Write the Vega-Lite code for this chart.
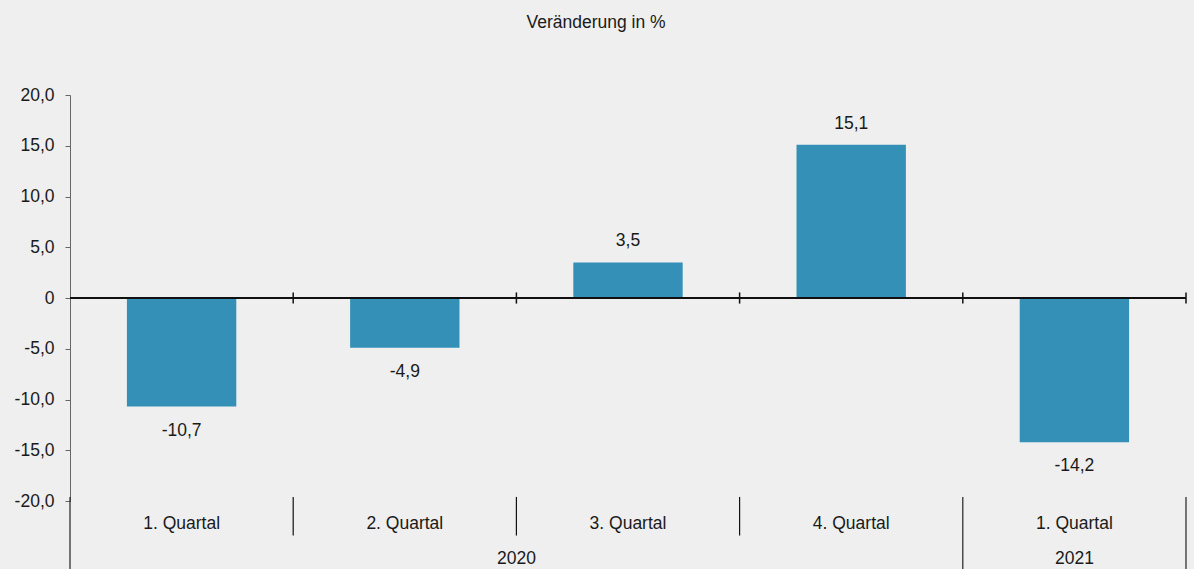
{
  "$schema": "https://vega.github.io/schema/vega-lite/v6.json",
  "width": 1116,
  "height": 406,
  "autosize": {"type": "none"},
  "padding": {"left": 70, "top": 95, "right": 8, "bottom": 68},
  "background": "#eeefee",
  "title": {
    "text": "Veränderung in %",
    "font": "Liberation Sans",
    "fontSize": 17.5,
    "fontWeight": "normal",
    "color": "#1a1a1a",
    "anchor": "middle",
    "baseline": "middle",
    "dx": -32,
    "offset": 46
  },
  "config": {
    "view": {"stroke": null},
    "text": {"font": "Liberation Sans", "fontSize": 17.5, "color": "#1a1a1a"}
  },
  "data": {
    "values": [
      {"key": "2020-1", "quarter": "1. Quartal", "year": "2020", "value": -10.7, "label": "-10,7"},
      {"key": "2020-2", "quarter": "2. Quartal", "year": "2020", "value": -4.9, "label": "-4,9"},
      {"key": "2020-3", "quarter": "3. Quartal", "year": "2020", "value": 3.5, "label": "3,5"},
      {"key": "2020-4", "quarter": "4. Quartal", "year": "2020", "value": 15.1, "label": "15,1"},
      {"key": "2021-1", "quarter": "1. Quartal", "year": "2021", "value": -14.2, "label": "-14,2"}
    ]
  },
  "encoding": {
    "x": {
      "field": "key",
      "type": "nominal",
      "sort": null,
      "scale": {"paddingInner": 0, "paddingOuter": 0},
      "axis": null
    }
  },
  "layer": [
    {
      "mark": {"type": "bar", "color": "#3590b8", "width": {"band": 0.49}},
      "encoding": {
        "y": {
          "field": "value",
          "type": "quantitative",
          "scale": {"domain": [-20, 20], "nice": false, "zero": false},
          "axis": {
            "values": [-20, -15, -10, -5, 0, 5, 10, 15, 20],
            "labelExpr": "datum.value == 0 ? '0' : replace(replace(format(datum.value, '.1f'), '.', ','), '\u2212', '-')",
            "title": null,
            "grid": false,
            "domainColor": "#666666",
            "tickColor": "#666666",
            "tickSize": 5,
            "labelPadding": 11,
            "labelFont": "Liberation Sans",
            "labelFontSize": 17.5,
            "labelColor": "#1a1a1a"
          }
        }
      }
    },
    {
      "mark": {"type": "rule", "color": "#111111", "strokeWidth": 1.5},
      "encoding": {"y": {"datum": 0, "type": "quantitative"}, "x": {"value": 0}, "x2": {"value": {"expr": "width"}}}
    },
    {
      "mark": {"type": "rule", "color": "#111111", "strokeWidth": 1.5},
      "encoding": {
        "x": {"field": "key", "type": "nominal", "sort": null, "bandPosition": 1},
        "y": {"datum": -0.55, "type": "quantitative"},
        "y2": {"datum": 0.55}
      }
    },
    {
      "transform": [{"filter": "datum.quarter != '1. Quartal'"}],
      "mark": {"type": "rule", "color": "#111111", "strokeWidth": 1.2},
      "encoding": {
        "x": {"field": "key", "type": "nominal", "sort": null, "bandPosition": 0},
        "y": {"datum": -19.6, "type": "quantitative"},
        "y2": {"datum": -23.4}
      }
    },
    {
      "transform": [{"filter": "datum.quarter == '1. Quartal'"}],
      "mark": {"type": "rule", "color": "#222222", "strokeWidth": 1.2},
      "encoding": {
        "x": {"field": "key", "type": "nominal", "sort": null, "bandPosition": 0},
        "y": {"datum": -19.6, "type": "quantitative"},
        "y2": {"datum": -27.5}
      }
    },
    {
      "transform": [{"filter": "datum.key == '2021-1'"}],
      "mark": {"type": "rule", "color": "#222222", "strokeWidth": 1.2},
      "encoding": {
        "x": {"field": "key", "type": "nominal", "sort": null, "bandPosition": 1},
        "y": {"datum": -19.6, "type": "quantitative"},
        "y2": {"datum": -27.5}
      }
    },
    {
      "transform": [{"filter": "datum.value > 0"}],
      "mark": {"type": "text", "baseline": "middle", "dy": -21},
      "encoding": {
        "y": {"field": "value", "type": "quantitative"},
        "text": {"field": "label"}
      }
    },
    {
      "transform": [{"filter": "datum.value < 0"}],
      "mark": {"type": "text", "baseline": "middle", "dy": 24},
      "encoding": {
        "y": {"field": "value", "type": "quantitative"},
        "text": {"field": "label"}
      }
    },
    {
      "mark": {"type": "text", "baseline": "middle"},
      "encoding": {
        "y": {"datum": -22.3, "type": "quantitative"},
        "text": {"field": "quarter"}
      }
    },
    {
      "transform": [{"filter": "datum.key == '2020-3'"}],
      "mark": {"type": "text", "baseline": "middle"},
      "encoding": {
        "x": {"field": "key", "type": "nominal", "sort": null, "bandPosition": 0},
        "y": {"datum": -25.7, "type": "quantitative"},
        "text": {"field": "year"}
      }
    },
    {
      "transform": [{"filter": "datum.key == '2021-1'"}],
      "mark": {"type": "text", "baseline": "middle"},
      "encoding": {
        "y": {"datum": -25.7, "type": "quantitative"},
        "text": {"field": "year"}
      }
    }
  ]
}
